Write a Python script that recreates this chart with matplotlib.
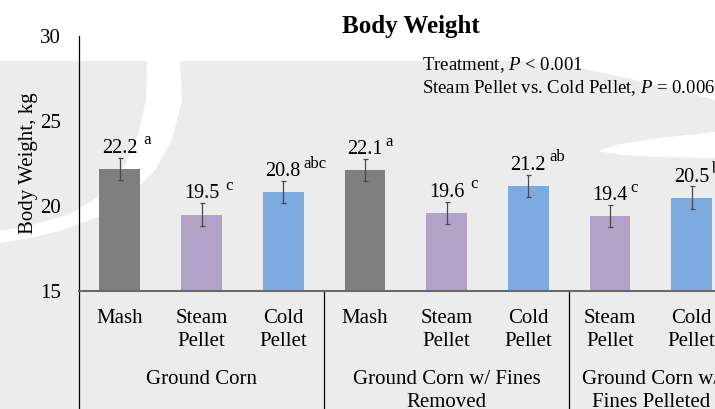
import matplotlib
matplotlib.use("Agg")
import matplotlib.pyplot as plt
from matplotlib.patches import Polygon
import matplotlib.transforms as mtransforms

plt.rcParams["font.family"] = ["Liberation Serif", "DejaVu Serif"]
plt.rcParams["mathtext.fontset"] = "custom"
plt.rcParams["mathtext.rm"] = "Liberation Serif"
plt.rcParams["mathtext.it"] = "Liberation Serif:italic"

# ---- data ----
treatments = ["Mash", "Steam\nPellet", "Cold\nPellet",
              "Mash", "Steam\nPellet", "Cold\nPellet",
              "Steam\nPellet", "Cold\nPellet"]
groups = ["Ground Corn", "Ground Corn w/ Fines\nRemoved", "Ground Corn w/\nFines Pelleted"]
group_sizes = [3, 3, 2]
body_weight = [22.2, 19.5, 20.8, 22.1, 19.6, 21.2, 19.4, 20.5]
sem = [0.65, 0.65, 0.65, 0.65, 0.65, 0.65, 0.65, 0.65]
letters = [" a", " c", "abc", "a", " c", "ab", "c", "bc"]
y_ticks = [15, 20, 25, 30]

colors = {"Mash": "#7f7f7f", "Steam": "#b3a2c7", "Cold": "#7eabdf"}
bar_colors = [colors[t.split("\n")[0]] for t in treatments]

W, H = 715, 409
DPI = 100
fig = plt.figure(figsize=(W / DPI, H / DPI), dpi=DPI, facecolor="white")


def fpt(x, y):
    return (x / W, 1 - y / H)


# decorative slide background
grey = "#ececec"
bg = [(0, 61), (520, 61), (570, 66), (622, 77), (670, 88), (715, 100),
      (715, 409), (0, 409)]
fig.add_artist(Polygon([fpt(*p) for p in bg], closed=True, transform=fig.transFigure,
                       facecolor=grey, edgecolor="none", zorder=-2))
band_upper = [(147, 61), (146, 100), (138, 135), (125, 165), (100, 196), (70, 214),
              (33, 225), (0, 231)]
band_lower = [(0, 243), (25, 239), (60, 231), (100, 216), (130, 196), (155, 170),
              (172, 140), (182, 100), (180, 61)]
fig.add_artist(Polygon([fpt(*p) for p in band_upper + band_lower], closed=True,
                       transform=fig.transFigure, facecolor="white",
                       edgecolor="none", zorder=-1))
streak = [(598, 151), (620, 144), (660, 138), (715, 132), (715, 158), (660, 157),
          (620, 155)]
fig.add_artist(Polygon([fpt(*p) for p in streak], closed=True, transform=fig.transFigure,
                       facecolor="white", edgecolor="none", zorder=-1))

# ---- axes ----
step = 81.7
n = len(treatments)
ax_left, ax_bottom_px, ax_top_px = 79, 291, 36
ax = fig.add_axes([ax_left / W, 1 - ax_bottom_px / H, n * step / W,
                   (ax_bottom_px - ax_top_px) / H])
ax.set_facecolor("none")
ax_h_px = ax_bottom_px - ax_top_px

x = list(range(n))
ax.bar(x, [v - 15 for v in body_weight], bottom=15, width=0.5, color=bar_colors,
       edgecolor="none", zorder=2)
ax.errorbar(x, body_weight, yerr=sem, fmt="none", ecolor="#4a4a4a", elinewidth=0.9,
            capsize=1.8, capthick=0.9, zorder=3)

ax.set_xlim(-0.5, n - 0.5)
ax.set_ylim(15, 30)
ax.set_yticks(y_ticks)
ax.tick_params(axis="y", length=0, pad=13, labelsize=15)
ax.set_xticks(x)
ax.set_xticklabels(treatments, fontsize=15, linespacing=1.3)
ax.tick_params(axis="x", length=0, pad=13)

for s in ["top", "right"]:
    ax.spines[s].set_visible(False)
ax.spines["left"].set_color("black")
ax.spines["left"].set_linewidth(0.9)
ax.spines["bottom"].set_color("#6a6a6a")
ax.spines["bottom"].set_linewidth(1.5)
ax.spines["bottom"].set_zorder(4)

# group separators and group labels below the category labels
blend = mtransforms.blended_transform_factory(ax.transData, ax.transAxes)
below = -(H - ax_bottom_px) / ax_h_px
start = 0
edges = [-0.5]
for g, size in zip(groups, group_sizes):
    center = start + (size - 1) / 2
    ax.text(center, -(370 - ax_bottom_px) / ax_h_px, g, transform=blend, ha="center",
            va="top", fontsize=15, linespacing=1.3)
    start += size
    edges.append(start - 0.5)
for e in edges[:-1]:
    ax.plot([e, e], [0, below], transform=blend, color="black", lw=0.9,
            clip_on=False, zorder=4)

# value labels with superscript letters
for i, (v, err, let) in enumerate(zip(body_weight, sem, letters)):
    num = ax.annotate(f"{v:.1f}", xy=(i, v), xytext=(0, 16 * 0.72),
                      textcoords="offset points", ha="center", va="baseline",
                      fontsize=14.5, zorder=5, annotation_clip=False)
    ax.annotate(let, xy=(1, 0.55), xycoords=num, xytext=(2, 5),
                textcoords="offset points", ha="left", va="center",
                fontsize=12, zorder=5, annotation_clip=False)

# titles and notes
fig.text(411 / W, 1 - 33 / H, "Body Weight", ha="center", va="baseline",
         fontsize=18, fontweight="bold")
fig.text(28 / W, 1 - 163 / H, "Body Weight, kg", ha="center", va="center",
         rotation=90, fontsize=15)
fig.text(422 / W, 1 - 70 / H, r"Treatment, $\mathit{P}$ < 0.001", ha="left",
         va="baseline", fontsize=13.5)
fig.text(422 / W, 1 - 93 / H, r"Steam Pellet vs. Cold Pellet, $\mathit{P}$ = 0.006",
         ha="left", va="baseline", fontsize=13.5)

fig.savefig("out.png", dpi=DPI, facecolor="white")
